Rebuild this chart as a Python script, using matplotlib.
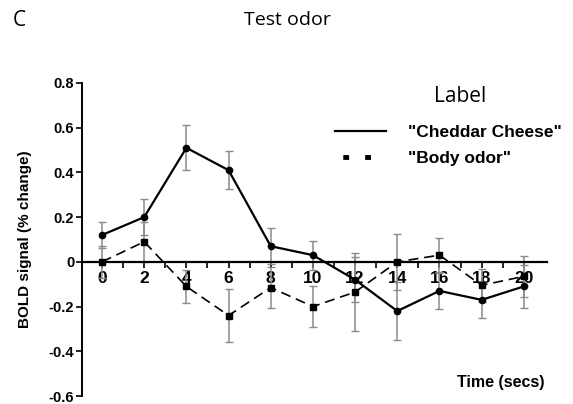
import matplotlib
matplotlib.use("Agg")
import matplotlib.pyplot as plt
from matplotlib.lines import Line2D

# time points (secs)
time = [0, 2, 4, 6, 8, 10, 12, 14, 16, 18, 20]

# "Cheddar Cheese" mean and error
cheese = [0.12, 0.20, 0.51, 0.41, 0.07, 0.03, -0.08, -0.22, -0.13, -0.17, -0.11]
cheese_err = [0.06, 0.08, 0.10, 0.085, 0.08, 0.065, 0.10, 0.13, 0.08, 0.08, 0.095]

# "Body odor" mean and error
body = [0.0, 0.09, -0.11, -0.24, -0.115, -0.20, -0.135, 0.0, 0.03, -0.105, -0.065]
body_err = [0.07, 0.09, 0.075, 0.117, 0.09, 0.09, 0.175, 0.125, 0.075, 0.075, 0.09]

series_names = ['"Cheddar Cheese"', '"Body odor"']
ytick_vals = [-0.6, -0.4, -0.2, 0, 0.2, 0.4, 0.6, 0.8]
ytick_labels = ['-0.6', '-0.4', '-0.2', '0', '0.2', '0.4', '0.6', '0.8']
xtick_vals = [0, 2, 4, 6, 8, 10, 12, 14, 16, 18, 20]

bold_font = 'Liberation Sans'
soft_font = 'Open Sans'

fig = plt.figure(figsize=(5.73, 4.04), dpi=100)
ax = fig.add_axes([0.1431, 0.0198, 0.8115, 0.7748])

err_color = '#8a8a8a'
ax.errorbar(time, cheese, yerr=cheese_err, fmt='none', ecolor=err_color,
            elinewidth=1.1, capsize=3, capthick=1, zorder=2)
ax.errorbar(time, body, yerr=body_err, fmt='none', ecolor=err_color,
            elinewidth=1.1, capsize=3, capthick=1, zorder=2)
ax.plot(time, cheese, color='black', lw=1.6, marker='o', markersize=4.5, zorder=3)
ax.plot(time, body, color='black', lw=1.2, ls=(0, (6, 3.5)), marker='s',
        markersize=5, zorder=3)

ax.set_xlim(-0.95, 21.1)
ax.set_ylim(-0.6, 0.8)

# axis styling
ax.spines['top'].set_visible(False)
ax.spines['right'].set_visible(False)
ax.spines['bottom'].set_position(('data', 0))
ax.spines['bottom'].set_linewidth(1.6)
ax.spines['left'].set_linewidth(1.4)

ax.set_xticks(xtick_vals)
ax.set_xticks(range(1, 21, 2), minor=True)
ax.set_xticklabels([str(v) for v in xtick_vals], fontfamily=bold_font,
                   fontweight='bold', fontsize=12.5)
ax.set_yticks(ytick_vals)
ax.set_yticklabels(ytick_labels, fontfamily=bold_font, fontweight='bold',
                   fontsize=10.5)
ax.tick_params(axis='x', which='both', length=4, width=1.2, pad=2.5)
ax.tick_params(axis='y', length=4, width=1.2, pad=1.5)

ax.set_ylabel('BOLD signal (% change)', fontfamily=bold_font,
              fontweight='bold', fontsize=11, labelpad=12)

fig.text(0.95, 1 - 383 / 404, 'Time (secs)', ha='right', va='center',
         fontfamily=bold_font, fontweight='bold', fontsize=11.5)

fig.text(13 / 573, 1 - 21 / 404, 'C', ha='left', va='center',
         fontfamily=soft_font, fontsize=15)
fig.text(0.502, 1 - 20 / 404, 'Test odor', ha='center', va='center',
         fontfamily=soft_font, fontsize=14)

# legend
fig.text(460 / 573, 1 - 97 / 404, 'Label', ha='center', va='center',
         fontfamily=soft_font, fontsize=15)
handles = [Line2D([], [], color='black', lw=1.6),
           Line2D([], [], color='black', lw=3.5, ls=(2.9, (1.2, 3.3)))]
leg = ax.legend(handles, series_names, frameon=False, loc='upper left',
                bbox_to_anchor=(335 / 573, 1 - 125 / 404),
                bbox_transform=fig.transFigure, borderpad=0, borderaxespad=0,
                handlelength=2.95, handletextpad=1.25, labelspacing=0.62,
                prop={'family': bold_font, 'weight': 'bold', 'size': 12.5})

fig.savefig('out.png', dpi=100)
